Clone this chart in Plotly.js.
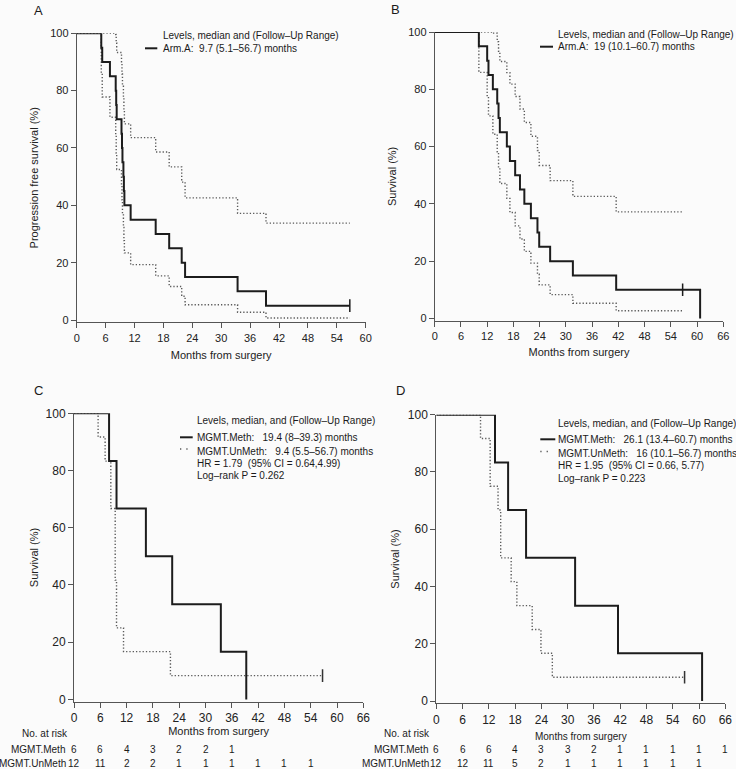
<!DOCTYPE html>
<html><head><meta charset="utf-8">
<script src="https://cdn.plot.ly/plotly-3.0.1.min.js"></script>
<style>html,body{margin:0;padding:0;background:#fbfbfb;} #chart{width:736px;height:769px;}</style>
</head><body><div id="chart"></div>
<script>
// ---------- Data ----------
// Panel A: progression free survival, Arm.A
const A_time  = [0, 5.1, 5.3, 6.9, 8.1, 8.2, 8.3, 9.3, 9.4, 9.5, 9.7, 9.8, 9.9, 11.2, 16.4, 19.2, 21.8, 22.5, 33.4, 39.3, 56.7];
const A_surv  = [100, 95, 90, 85, 80, 75, 70, 65, 60, 55, 50, 45, 40, 35, 30, 25, 20, 15, 10, 5, 5];
const A_upper = [100, 100, 100, 100, 99.6, 96.6, 93.3, 89.7, 85.8, 81.8, 77.5, 73.1, 68.4, 63.6, 58.6, 53.4, 48.1, 42.6, 37.2, 33.8, 33.8];
const A_lower = [100, 85.9, 77.8, 70.7, 64.3, 58.2, 52.5, 47.1, 41.9, 37.0, 32.3, 27.7, 23.4, 19.3, 15.4, 11.7, 8.3, 5.3, 2.7, 0.7, 0.7];
const A_censor_t = [56.7], A_censor_s = [5];

// Panel B: overall survival, Arm.A
const B_time  = [0, 10.1, 12.0, 12.3, 13.3, 14.3, 14.6, 14.9, 16.5, 17.2, 18.4, 19.5, 20.5, 22.0, 23.5, 23.9, 26.4, 31.6, 41.5, 60.7];
const B_surv  = [100, 95, 90, 85, 80, 75, 70, 65, 60, 55, 50, 45, 40, 35, 30, 25, 20, 15, 10, 0];
const B_ci_time = [0, 10.1, 12.0, 12.3, 13.3, 14.3, 14.6, 14.9, 16.5, 17.2, 18.4, 19.5, 20.5, 22.0, 23.5, 23.9, 26.4, 31.6, 41.5, 56.7];
const B_upper = [100, 100, 100, 100, 99.6, 96.6, 93.3, 89.7, 85.8, 81.8, 77.5, 73.1, 68.4, 63.6, 58.6, 53.4, 48.1, 42.6, 37.2, 37.2];
const B_lower = [100, 85.9, 77.8, 70.7, 64.3, 58.2, 52.5, 47.1, 41.9, 37.0, 32.3, 27.7, 23.4, 19.3, 15.4, 11.7, 8.3, 5.3, 2.7, 2.7];
const B_censor_t = [56.7], B_censor_s = [10];

// Panel C: PFS by MGMT status
const C_meth_time = [0, 8.0, 9.7, 16.4, 22.4, 33.5, 39.3];
const C_meth_surv = [100, 83.3, 66.7, 50, 33.3, 16.7, 0];
const C_un_time   = [0, 5.5, 7.1, 8.4, 9.4, 9.7, 11.3, 22.0, 56.7];
const C_un_surv   = [100, 91.7, 83.3, 66.7, 41.7, 25, 16.7, 8.3, 8.3];
const C_censor_t = [56.7], C_censor_s = [8.3];

// Panel D: OS by MGMT status
const D_meth_time = [0, 13.4, 16.4, 20.5, 31.7, 41.5, 60.7];
const D_meth_surv = [100, 83.3, 66.7, 50, 33.3, 16.7, 0];
const D_un_time   = [0, 10.1, 12.3, 14.1, 14.7, 17.1, 18.4, 21.9, 23.9, 26.5, 56.7];
const D_un_surv   = [100, 91.7, 75, 66.7, 50, 41.7, 33.3, 25, 16.7, 8.3, 8.3];
const D_censor_t = [56.7], D_censor_s = [8.3];

// Numbers at risk
const riskTimes   = [0, 6, 12, 18, 24, 30, 36, 42, 48, 54, 60, 66];
const C_meth_risk = [6, 6, 4, 3, 2, 2, 1];
const C_un_risk   = [12, 11, 2, 2, 1, 1, 1, 1, 1, 1];
const D_meth_risk = [6, 6, 6, 4, 3, 3, 2, 1, 1, 1, 1, 1];
const D_un_risk   = [12, 12, 11, 5, 2, 1, 1, 1, 1, 1, 1];

// Tick labels
const yTicks   = [0, 20, 40, 60, 80, 100];
const xTicks60 = [0, 6, 12, 18, 24, 30, 36, 42, 48, 54, 60];
const xTicks66 = [0, 6, 12, 18, 24, 30, 36, 42, 48, 54, 60, 66];

// Texts
const legTitleAB = 'Levels, median and (Follow\u2013Up Range)';
const legTitleCD = 'Levels, median, and (Follow\u2013Up Range)';
const NB = '\u00A0';
const A_leg = 'Arm.A:' + NB + NB + '9.7 (5.1\u201356.7) months';
const B_leg = 'Arm.A:' + NB + NB + '19 (10.1\u201360.7) months';
const C_leg = ['MGMT.Meth:' + NB + NB + NB + '19.4 (8\u201339.3) months',
               'MGMT.UnMeth:' + NB + NB + NB + '9.4 (5.5\u201356.7) months',
               'HR = 1.79' + NB + NB + '(95% CI = 0.64,4.99)',
               'Log\u2013rank P = 0.262'];
const D_leg = ['MGMT.Meth:' + NB + NB + NB + '26.1 (13.4\u201360.7) months',
               'MGMT.UnMeth:' + NB + NB + NB + '16 (10.1\u201356.7) months',
               'HR = 1.95' + NB + NB + '(95% CI = 0.66, 5.77)',
               'Log\u2013rank P = 0.223'];

// ---------- Styling ----------
const W = 736, H = 769;
const FONT = 'Liberation Sans, Arial, Helvetica, sans-serif';
const BLACK = '#1c1c1c', GREY = '#5a5a5a', AXC = '#555';
const px = v => v / W, py = v => 1 - v / H;

function solid(x, y, xa, ya) {
  return {x, y, xaxis: xa, yaxis: ya, type: 'scatter', mode: 'lines',
          line: {shape: 'hv', color: BLACK, width: 2}, hoverinfo: 'skip'};
}
function dotted(x, y, xa, ya) {
  return {x, y, xaxis: xa, yaxis: ya, type: 'scatter', mode: 'lines',
          line: {shape: 'hv', color: GREY, width: 1.4, dash: '1.3px,2px'}, hoverinfo: 'skip'};
}
function censor(x, y, xa, ya, col) {
  return {x, y, xaxis: xa, yaxis: ya, type: 'scatter', mode: 'markers',
          marker: {symbol: 'line-ns', size: 9, color: col, line: {color: col, width: 1.5}}, hoverinfo: 'skip'};
}

const data = [
  dotted(A_time, A_lower, 'x', 'y'), dotted(A_time, A_upper, 'x', 'y'),
  solid(A_time, A_surv, 'x', 'y'), censor(A_censor_t, A_censor_s, 'x', 'y', BLACK),
  dotted(B_ci_time, B_lower, 'x2', 'y2'), dotted(B_ci_time, B_upper, 'x2', 'y2'),
  solid(B_time, B_surv, 'x2', 'y2'), censor(B_censor_t, B_censor_s, 'x2', 'y2', BLACK),
  dotted(C_un_time, C_un_surv, 'x3', 'y3'), solid(C_meth_time, C_meth_surv, 'x3', 'y3'),
  censor(C_censor_t, C_censor_s, 'x3', 'y3', '#333'),
  dotted(D_un_time, D_un_surv, 'x4', 'y4'), solid(D_meth_time, D_meth_surv, 'x4', 'y4'),
  censor(D_censor_t, D_censor_s, 'x4', 'y4', '#333')
];

function xAxis(domain, ticks, anchor, tsize, tfs, standoff) {
  return {domain, range: [0, ticks[ticks.length - 1]], anchor, tickvals: ticks,
    ticks: 'outside', ticklen: 5, tickwidth: 1, tickcolor: AXC,
    showline: true, linecolor: AXC, linewidth: 1, showgrid: false, zeroline: false,
    tickfont: {size: tsize, color: '#222', family: FONT},
    title: {text: 'Months from surgery', standoff, font: {size: tfs, color: '#222', family: FONT}},
    fixedrange: true};
}
function yAxis(domain, anchor, title, tsize, standoff) {
  return {domain, range: [-0.8, 100], anchor, tickvals: yTicks,
    ticks: 'outside', ticklen: 5, tickwidth: 1, tickcolor: AXC,
    showline: true, linecolor: AXC, linewidth: 1, showgrid: false, zeroline: false,
    tickfont: {size: tsize, color: '#222', family: FONT},
    title: {text: title, standoff, font: {size: 11, color: '#222', family: FONT}},
    fixedrange: true};
}

const annotations = [];
const shapes = [];
function txt(xp, yp, text, size, anchor) {
  annotations.push({xref: 'paper', yref: 'paper', x: px(xp), y: py(yp), text,
    showarrow: false, xanchor: anchor || 'left', yanchor: 'middle',
    font: {size: size || 10, color: '#1a1a1a', family: FONT}});
}
function sample(x0, x1, y, isDot) {
  shapes.push({type: 'line', xref: 'paper', yref: 'paper', x0: px(x0), x1: px(x1), y0: py(y), y1: py(y),
    line: isDot ? {color: GREY, width: 1.4, dash: '1.3px,5px'} : {color: BLACK, width: 2}});
}

// Panel letters
txt(38, 10, 'A', 13, 'center'); txt(396, 9, 'B', 13, 'center');
txt(38, 390, 'C', 13, 'center'); txt(400, 390, 'D', 13, 'center');

// Legends
txt(160.5, 36, legTitleAB); txt(160.5, 48.3, A_leg); sample(145, 157.3, 48.3, false);
txt(555.5, 34.7, legTitleAB); txt(555.5, 46.7, B_leg); sample(540, 553, 46.7, false);
txt(195, 420.7, legTitleCD); sample(180, 192.7, 437.3, false); sample(180, 190, 449, true);
[437.3, 451, 463.3, 475.7].forEach((y, i) => txt(195, y, C_leg[i]));
txt(556, 423.3, legTitleCD); sample(540.3, 555.3, 439.3, false); sample(540.3, 551, 451.5, true);
[439.3, 453.7, 465.7, 478].forEach((y, i) => txt(556, y, D_leg[i]));

// Risk tables
function riskRow(xa, vals, yp) {
  vals.forEach((v, i) => annotations.push({xref: xa, yref: 'paper', x: riskTimes[i], y: py(yp),
    text: String(v), showarrow: false, xanchor: 'center', yanchor: 'middle',
    font: {size: 10, color: '#1a1a1a', family: FONT}}));
}
txt(45, 733.3, 'No. at risk', 10, 'center');
txt(67, 749.3, 'MGMT.Meth', 10, 'right'); txt(68, 763.3, 'MGMT.UnMeth', 10, 'right');
riskRow('x3', C_meth_risk, 749.3); riskRow('x3', C_un_risk, 763.3);
txt(407, 733.3, 'No. at risk', 10, 'center');
txt(430, 749.3, 'MGMT.Meth', 10, 'right'); txt(431, 763.3, 'MGMT.UnMeth', 10, 'right');
riskRow('x4', D_meth_risk, 749.3); riskRow('x4', D_un_risk, 763.3);

const layout = {
  width: W, height: H, margin: {l: 0, r: 0, t: 0, b: 0},
  paper_bgcolor: '#fbfbfb', plot_bgcolor: '#fbfbfb', showlegend: false,
  font: {family: FONT, color: '#1a1a1a'},
  xaxis:  xAxis([px(76.7), px(365.7)], xTicks60, 'y', 11, 11, 8.3),
  yaxis:  yAxis([py(322.3), py(33.3)], 'x', 'Progression free survival (%)', 11, 8.8),
  xaxis2: xAxis([px(434.7), px(723.3)], xTicks66, 'y2', 11, 11, 7.0),
  yaxis2: yAxis([py(320.7), py(32)], 'x2', 'Survival (%)', 11, 8.8),
  xaxis3: xAxis([px(74), px(363.3)], xTicks66, 'y3', 12, 11, 3.0),
  yaxis3: yAxis([py(701.7), py(413.3)], 'x3', 'Survival (%)', 12, 4.2),
  xaxis4: xAxis([px(436.3), px(725.3)], xTicks66, 'y4', 12, 10, 7.2),
  yaxis4: yAxis([py(703.3), py(414.7)], 'x4', 'Survival (%)', 12, 5.9),
  annotations, shapes
};

Plotly.newPlot('chart', data, layout, {staticPlot: true, displayModeBar: false});
</script></body></html>
